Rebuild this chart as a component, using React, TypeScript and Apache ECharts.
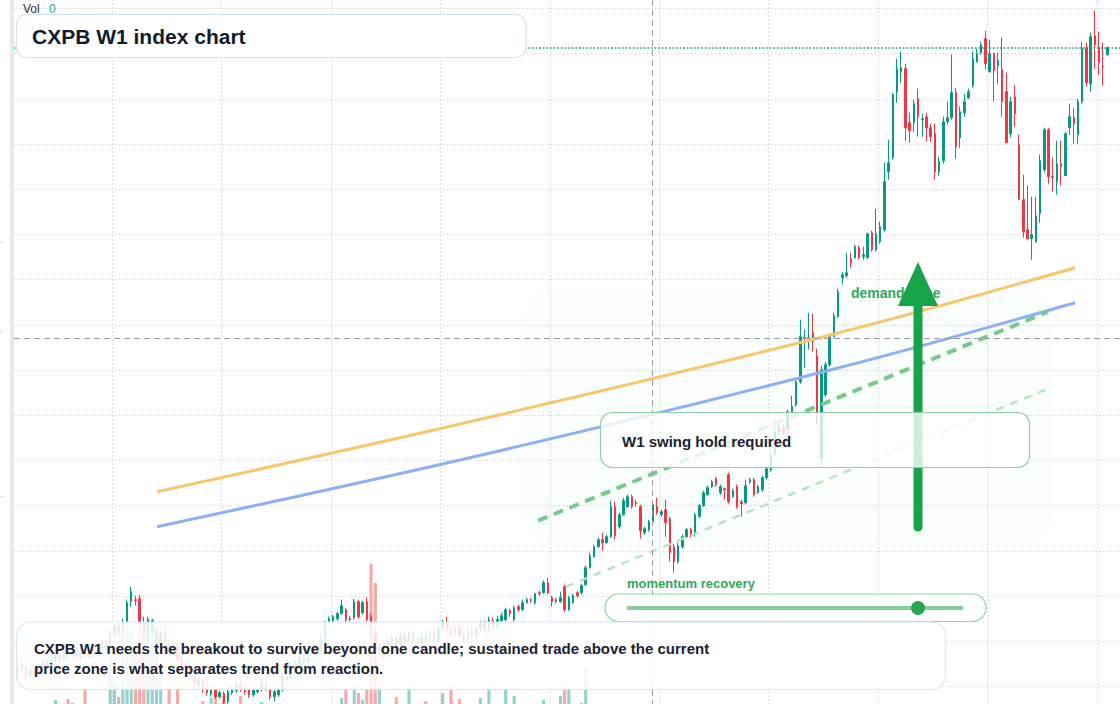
import React, { useEffect, useRef } from "react";
import * as echarts from "echarts";

const FONT = '"Liberation Sans", Arial, Helvetica, sans-serif';
const UP = "#089981";
const DOWN = "#f23645";

// Empty week slots before the first plotted bar, and total slots on the time axis
const LEAD_SLOTS = 3;
const TOTAL_SLOTS = 266;

// Price axis layout (labels hidden): one grid step per level
const PRICE_STEP = 45.2;
const PRICE_MAX = 768.4;

// Weekly bars: [open, close, low, high]
const weeklyBars: number[][] = [
  [59,64,57,66],[62,67,60,70],[64,56,53,66],[57,61,54,63],[61,58,55,64],[58,66,56,68],[65,71,63,74],[71,65,62,73],[65,72,63,75],[71,77,69,80],
  [77,72,69,79],[72,81,70,84],[81,77,74,84],[76,82,74,85],[82,75,72,84],[75,80,72,83],[80,76,74,82],[76,84,74,86],[84,78,75,87],[78,83,76,86],
  [82,89,80,92],[89,84,81,92],[84,98,82,102],[97,105,94,108],[106,99,96,110],[99,110,97,113],[110,129,108,132],[130,140,125,145],[132,131,126,136],[133,109,106,137],
  [109,97,92,115],[91,112,86,115],[99,111,95,113],[91,100,87,104],[88,98,85,101],[98,87,84,101],[88,80,77,92],[78,86,75,89],[86,72,69,89],[72,64,60,76],
  [61,68,58,71],[67,55,52,70],[55,48,45,59],[46,51,43,54],[50,42,39,53],[43,39,36,46],[38,42,35,45],[42,35,33,44],[35,39,33,41],[38,29,26,40],
  [30,40,28,42],[39,42,37,45],[41,47,39,50],[47,43,40,51],[43,40,37,47],[42,37,34,44],[37,42,35,44],[40,42,38,44],[42,49,40,53],[49,43,41,52],
  [42,35,32,44],[35,40,30,42],[37,42,35,44],[42,56,40,59],[56,52,49,61],[52,61,50,64],[61,68,59,71],[68,74,66,77],[74,70,68,78],[70,80,68,83],
  [80,84,77,87],[84,80,76,88],[80,92,78,96],[91,108,88,111],[108,113,106,115],[111,115,109,117],[113,118,111,120],[118,126,117,132],[122,112,107,124],[113,112,109,116],
  [114,130,112,133],[130,115,113,132],[119,129,117,131],[130,112,106,134],[115,99,95,118],[99,82,78,102],[78,85,74,88],[85,76,72,88],[77,89,74,92],[88,94,86,97],
  [94,87,84,98],[87,96,85,99],[96,91,88,100],[91,98,89,101],[98,90,87,101],[90,88,84,95],[88,95,86,98],[95,91,89,100],[91,99,88,102],[99,92,90,103],
  [92,104,90,107],[103,109,101,112],[109,102,99,115],[102,98,95,106],[98,104,96,107],[104,96,93,107],[96,92,89,99],[92,101,90,104],[101,95,92,104],[95,103,93,106],
  [103,108,100,111],[108,102,99,111],[102,112,100,115],[111,105,102,114],[105,112,103,116],[111,116,109,119],[112,122,110,124],[121,118,115,123],[112,124,110,126],[125,122,120,127],
  [122,129,121,132],[129,132,128,134],[132,131,129,134],[129,138,127,139],[139,138,136,141],[139,149,138,151],[149,139,137,154],[134,130,125,136],[132,130,128,134],[130,134,129,140],
  [145,122,120,147],[122,134,121,136],[129,136,128,138],[139,136,134,141],[139,146,137,148],[147,164,146,166],[164,176,163,179],[175,185,174,187],[185,192,184,194],[192,189,181,199],
  [189,195,188,197],[195,225,194,231],[225,196,192,230],[205,217,203,219],[217,231,216,234],[225,235,224,237],[235,225,223,237],[229,228,225,232],[225,201,193,227],[199,203,197,205],
  [202,210,200,212],[210,227,209,229],[225,219,217,234],[217,220,215,222],[222,209,195,232],[213,179,170,215],[185,170,159,188],[170,186,168,189],[185,195,183,197],[195,202,194,204],
  [202,196,194,204],[197,217,195,219],[215,226,214,228],[226,239,225,241],[237,244,236,246],[245,250,244,252],[253,247,245,255],[239,245,237,247],[243,242,232,244],[257,230,228,259],
  [235,241,234,243],[245,225,223,247],[230,228,215,232],[229,246,227,252],[250,252,248,254],[252,237,235,254],[239,245,238,247],[242,254,240,256],[254,263,252,265],[262,277,260,280],
  [277,300,275,304],[299,305,296,308],[304,299,296,307],[302,320,300,322],[320,325,319,336],[327,350,325,352],[350,395,348,412],[393,394,364,402],[393,394,382,419],[399,390,380,418],
  [376,319,307,383],[274,362,266,366],[337,367,335,370],[367,395,365,398],[395,416,394,419],[415,440,414,443],[454,457,447,460],[456,459,454,479],[473,469,464,479],[474,485,473,487],
  [484,474,472,486],[475,477,472,485],[474,498,473,499],[499,482,480,501],[482,498,480,523],[490,505,488,510],[502,550,500,569],[560,569,552,592],[574,637,572,639],[640,663,629,673],
  [660,664,649,680],[663,604,591,668],[609,601,589,619],[609,628,600,632],[633,615,595,643],[612,613,595,618],[615,604,590,619],[604,595,590,608],[598,560,552,608],[560,570,556,575],
  [571,610,568,615],[610,614,607,630],[614,639,612,677],[639,585,573,644],[594,620,584,625],[619,630,615,638],[634,640,633,643],[646,673,644,680],[670,678,669,683],[679,687,677,690],
  [693,668,662,701],[660,678,659,692],[678,661,630,679],[666,671,648,679],[662,630,615,694],[640,589,589,659],[598,630,594,635],[635,618,605,647],[587,532,532,597],[532,500,494,557],
  [502,493,492,546],[493,497,472,535],[490,516,489,535],[518,571,509,577],[562,602,559,604],[602,555,548,604],[555,554,540,574],[550,568,537,591],[568,565,546,591],[556,598,556,600],
  [604,615,597,628],[614,608,588,624],[597,630,588,633],[630,683,628,690],[684,649,645,689],[648,695,640,699],[696,687,663,721],[684,669,657,700],[665,664.5,646,689],[677,684,676,685],
];

const weeklyVolume: number[] = [
  24,18,26,20,15,21,25,19,28,34,
  22,27,35,31,20,24,44,26,18,23,
  29,27,78,52,37,100,108,104,84,118,
  112,115,92,80,60,25,44,22,44,26,
  19,28,24,17,33,21,36,40,27,38,
  25,19,23,38,22,29,18,21,32,24,
  27,20,17,26,22,29,19,25,21,28,
  23,18,30,26,24,20,27,36,44,29,
  47,41,34,45,170,151,47,28,25,22,
  37,24,19,47,26,21,23,33,20,24,
  18,41,27,47,22,35,19,25,21,28,
  36,20,47,23,26,19,44,24,38,21,
  27,19,23,30,18,34,26,22,20,38,
  48,45,29,24,31,65,28,26,18,14,
  11,24,22,12,16,13,15,9,21,10,
  12,17,14,8,19,25,23,16,13,11,
  9,15,14,18,12,10,9,11,8,17,
  10,15,12,14,7,13,9,12,11,16,
  19,10,12,15,13,20,27,18,16,17,
  26,25,14,16,15,18,12,10,11,13,
  9,8,14,11,12,10,22,15,26,19,
  13,24,14,12,16,9,11,10,18,9,
  15,10,17,21,13,11,9,16,12,10,
  17,13,11,9,19,22,14,12,25,23,
  15,18,13,20,17,19,11,14,10,16,
  12,11,14,24,18,21,20,15,12,8,
];

// Hand-drawn references, as [week slot position, price]
const upperGuide = [[36.62, 240], [118.14, 317], [197.76, 398], [254.8, 464]];
const lowerGuide = [[36.62, 205], [118.14, 281], [197.76, 363], [254.8, 429]];
const channelUpper = [[127.17, 211], [248.38, 420]];
const channelLower = [[133.83, 145], [248.38, 343]];

const noteLines = [
  "CXPB W1 needs the breakout to survive beyond one candle; sustained trade above the current",
  "price zone is what separates trend from reaction.",
];

const weekLabels = Array.from({ length: TOTAL_SLOTS }, (_, i) =>
  new Date(Date.UTC(2019, 0, 7 + 7 * i)).toISOString().slice(0, 10)
);

export default function App() {
  const ref = useRef<HTMLDivElement>(null);

  useEffect(() => {
    document.body.style.margin = "0";
    if (!ref.current) return;
    const chart = echarts.init(ref.current, undefined, { renderer: "svg" });

    const candleData = weekLabels.map((_, i) => {
      const b = weeklyBars[i - LEAD_SLOTS];
      return b ? b : "-";
    });
    const volumeData = weekLabels.map((_, i) => {
      const k = i - LEAD_SLOTS;
      const b = weeklyBars[k];
      if (!b) return "-";
      return {
        value: weeklyVolume[k],
        itemStyle: { color: b[1] >= b[0] ? "rgba(38,166,154,0.5)" : "rgba(239,83,80,0.5)" },
      };
    });
    const lastClose = weeklyBars[weeklyBars.length - 1][1];

    const gridLine = { color: "#d2d2d2", width: 1, type: [1.5, 2.5] };
    const txt = (text: string, x: number, y: number, size: number, fill: string, z: number, weight = "bold") => ({
      type: "text",
      z,
      silent: true,
      x,
      y,
      style: { text, fill, fontSize: size, fontWeight: weight, fontFamily: FONT, verticalAlign: "middle", align: "left" },
    });

    chart.setOption({
      animation: false,
      backgroundColor: "#ffffff",
      grid: [
        { left: 2.9, width: 1119.25, top: -36.7, height: 768.4, containLabel: false, outerBoundsMode: "none" },
        { left: 2.9, width: 1119.25, top: 404, height: 330, containLabel: false, outerBoundsMode: "none" },
      ],
      xAxis: [
        {
          type: "category",
          gridIndex: 0,
          data: weekLabels,
          boundaryGap: true,
          axisLine: { show: false },
          axisTick: { show: false },
          axisLabel: { show: false },
          splitLine: { show: true, interval: 25, lineStyle: gridLine },
        },
        { type: "category", gridIndex: 1, data: weekLabels, show: false },
        { type: "value", gridIndex: 0, min: 0, max: TOTAL_SLOTS, show: false, position: "top" },
      ],
      yAxis: [
        {
          type: "value",
          gridIndex: 0,
          min: 0,
          max: PRICE_MAX,
          interval: PRICE_STEP,
          axisLine: { show: false },
          axisTick: { show: false },
          axisLabel: { show: false },
          splitLine: { show: true, lineStyle: gridLine },
        },
        { type: "value", gridIndex: 1, min: 0, max: 330, show: false },
      ],
      series: [
        {
          type: "bar",
          name: "Vol",
          xAxisIndex: 1,
          yAxisIndex: 1,
          data: volumeData,
          barWidth: "74%",
          z: 1,
          silent: true,
        },
        {
          type: "candlestick",
          name: "CXPB",
          xAxisIndex: 0,
          yAxisIndex: 0,
          data: candleData,
          barWidth: 2,
          z: 2,
          silent: true,
          itemStyle: { color: UP, color0: DOWN, borderColor: UP, borderColor0: DOWN, borderWidth: 1 },
          markLine: {
            silent: true,
            symbol: "none",
            label: { show: false },
            lineStyle: { color: UP, width: 1.6, type: [1.6, 2] },
            data: [{ yAxis: lastClose }],
          },
        },
        {
          type: "line",
          xAxisIndex: 2,
          yAxisIndex: 0,
          data: upperGuide,
          smooth: 0.4,
          symbol: "none",
          silent: true,
          z: 3,
          lineStyle: { color: "#f6c66c", width: 3 },
        },
        {
          type: "line",
          xAxisIndex: 2,
          yAxisIndex: 0,
          data: lowerGuide,
          smooth: 0.4,
          symbol: "none",
          silent: true,
          z: 3,
          lineStyle: { color: "#8eb0f1", width: 3 },
        },
        {
          type: "line",
          xAxisIndex: 2,
          yAxisIndex: 0,
          data: channelUpper,
          symbol: "none",
          silent: true,
          z: 3,
          lineStyle: { color: "#78c98f", width: 4, type: [10, 7] },
        },
        {
          type: "line",
          xAxisIndex: 2,
          yAxisIndex: 0,
          data: channelLower,
          symbol: "none",
          silent: true,
          z: 3,
          lineStyle: { color: "#b9e4c4", width: 2.5, type: [8, 7] },
        },
      ],
      graphic: {
        elements: [
          // demand zone backdrop
          { type: "rect", z: 1, silent: true, shape: { x: 527, y: 292, width: 525, height: 247, r: 20 }, style: { fill: "rgba(34,197,94,0.028)" } },
          // crosshair
          { type: "line", z: 4, silent: true, shape: { x1: 652.5, y1: 0, x2: 652.5, y2: 704 }, style: { stroke: "#9c9c9c", lineWidth: 1, lineDash: [6, 4] } },
          { type: "line", z: 4, silent: true, shape: { x1: 14, y1: 338.5, x2: 1120, y2: 338.5 }, style: { stroke: "#9c9c9c", lineWidth: 1, lineDash: [6, 4] } },
          txt("demand zone", 851, 293, 14, "#2daa5a", 4),
          // upward arrow
          { type: "line", z: 5, silent: true, shape: { x1: 918, y1: 300, x2: 918, y2: 527 }, style: { stroke: "#16a34a", lineWidth: 9, lineCap: "round" } },
          { type: "polygon", z: 5, silent: true, shape: { points: [[898, 306], [938, 306], [918, 262]] }, style: { fill: "#16a34a" } },
          // swing hold callout
          { type: "rect", z: 6, silent: true, shape: { x: 600.5, y: 412.5, width: 429, height: 55, r: 12 }, style: { fill: "rgba(255,255,255,0.8)", stroke: "#8fd1a3", lineWidth: 1.2 } },
          txt("W1 swing hold required", 622, 441, 15, "#1b2231", 7),
          // momentum gauge
          txt("momentum recovery", 627, 583, 13, "#2daa5a", 6),
          { type: "rect", z: 6, silent: true, shape: { x: 605, y: 594, width: 381, height: 27.5, r: 13.75 }, style: { fill: "rgba(255,255,255,0.92)", stroke: "#93d4a6", lineWidth: 1.2 } },
          { type: "line", z: 7, silent: true, shape: { x1: 627, y1: 608, x2: 963, y2: 608 }, style: { stroke: "#86cf9c", lineWidth: 4 } },
          { type: "circle", z: 8, silent: true, shape: { cx: 918, cy: 608, r: 7 }, style: { fill: "#27a552" } },
          // commentary box
          { type: "rect", z: 6, silent: true, shape: { x: 16.5, y: 622, width: 929, height: 67.5, r: 14 }, style: { fill: "rgba(255,255,255,0.86)", stroke: "#d8e4f6", lineWidth: 1.2 } },
          txt(noteLines[0], 34, 648, 15, "#1b2231", 7),
          txt(noteLines[1], 34, 668, 15, "#1b2231", 7),
          // title
          { type: "rect", z: 8, silent: true, shape: { x: 16.5, y: 14.5, width: 509.5, height: 43, r: 10 }, style: { fill: "#ffffff", stroke: "#d3e0f4", lineWidth: 1.2 } },
          txt("CXPB W1 index chart", 32, 36.5, 21, "#131b2a", 9),
          // volume readout
          txt("Vol", 23, 9, 12, "#2a2e39", 9, "normal"),
          txt("0", 49, 9, 12, "#26a69a", 9, "normal"),
          // left price-scale edge
          { type: "rect", z: 9, silent: true, shape: { x: 0, y: 0, width: 10, height: 704 }, style: { fill: "#ffffff" } },
          { type: "rect", z: 9, silent: true, shape: { x: 10, y: 0, width: 4, height: 704 }, style: { fill: "#e9e9e9" } },
          { type: "line", z: 10, silent: true, shape: { x1: 0, y1: 242.5, x2: 2.5, y2: 242.5 }, style: { stroke: "#dadada", lineWidth: 1 } },
          { type: "line", z: 10, silent: true, shape: { x1: 0, y1: 331.5, x2: 2.5, y2: 331.5 }, style: { stroke: "#dadada", lineWidth: 1 } },
          { type: "line", z: 10, silent: true, shape: { x1: 0, y1: 496.5, x2: 2.5, y2: 496.5 }, style: { stroke: "#dadada", lineWidth: 1 } },
        ],
      },
    });

    return () => chart.dispose();
  }, []);

  return <div ref={ref} style={{ width: 1120, height: 704 }} />;
}
